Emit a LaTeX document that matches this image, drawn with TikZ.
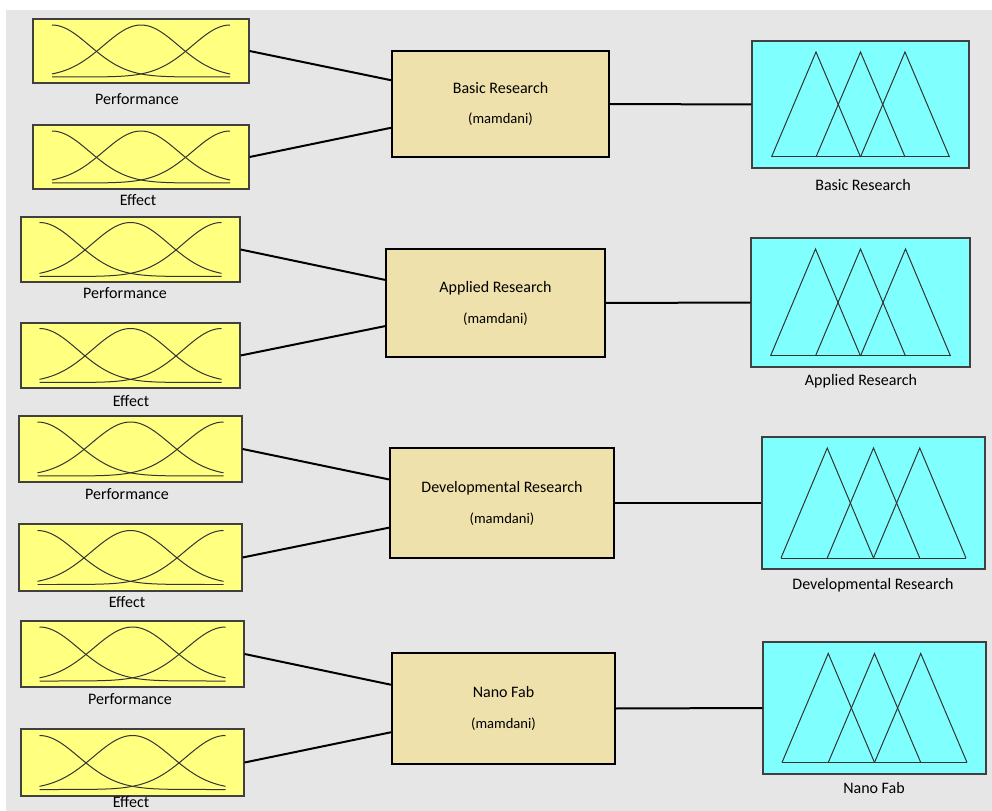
\documentclass[tikz,border=0pt]{standalone}
\usepackage{fontspec}
\setmainfont{Carlito}
\usetikzlibrary{positioning}
\usetikzlibrary{calc}

\definecolor{inyellow}{RGB}{255,255,128}
\definecolor{outcyan}{RGB}{128,255,255}
\definecolor{fisbeige}{RGB}{239,225,171}
\definecolor{panelgray}{RGB}{230,230,230}

\tikzset{
  boxsize/.style 2 args={minimum width=#1*0.2mm, minimum height=#2*0.2mm},
  inbox/.style={draw=black!75, line width=0.25mm, fill=inyellow, inner sep=0pt},
  outbox/.style={draw=black!75, line width=0.25mm, fill=outcyan, inner sep=0pt},
  fisbox/.style={draw=black, line width=0.45mm, fill=fisbeige, inner sep=0pt,
    align=center, font=\fontsize{9.1}{17.6}\selectfont},
  lbl/.style={font=\fontsize{9.1}{11}\selectfont, inner sep=0pt},
  link/.style={line width=0.4mm},
  mfline/.style={line width=0.2mm, draw=black!80},
}

% gaussian membership functions: node, half span, half height
\newcommand{\gaussmfs}[3]{%
  \begin{scope}[shift={(#1.center)}]
    \foreach \ctr in {-1,0,1}
      \draw[mfline] plot[domain=-#2:#2, samples=60, smooth]
        (\x, {#3 - 2*#3*exp(-0.5*((\x-(\ctr)*#2)/(0.42*#2))^2)});
  \end{scope}}

% triangular membership functions: node, half base, half height
\newcommand{\trimfs}[3]{%
  \begin{scope}[shift={(#1.center)}]
    \draw[mfline] (-#2,#3) -- (#2,#3);
    \foreach \k in {-1,0,1}
      \draw[mfline] ({(\k-1)*#2/2},#3) -- ({\k*#2/2},-#3) -- ({(\k+1)*#2/2},#3);
  \end{scope}}

\begin{document}
\begin{tikzpicture}[x=0.02cm, y=-0.02cm]

  % panel
  \useasboundingbox (0,0) rectangle (992,811);
  \fill[white] (0,0) rectangle (992,811);
  \fill[panelgray] (6,10) rectangle (992,811);

  % Basic Research
  \node[inbox, boxsize={216}{64}] (perf1) at (141,51) {};
  \node[inbox, boxsize={216}{64}] (eff1) at (141,157) {};
  \node[fisbox, boxsize={217}{106}] (mid1) at (500.5,104)
    {Basic Research\\{\fontsize{8.3}{17.6}\selectfont (mamdani)}};
  \node[outbox, boxsize={217}{127}] (out1) at (860.5,104.5) {};
  \node[lbl] (perf1lbl) at (137,99) {Performance};
  \node[lbl] (eff1lbl) at (138,200) {Effect};
  \node[lbl] (out1lbl) at (863,185) {Basic Research};
  \gaussmfs{perf1}{89}{26}
  \gaussmfs{eff1}{89}{26}
  \trimfs{out1}{89}{52.5}
  \draw[link] (perf1.east) -- ($(mid1.north west)!0.28!(mid1.south west)$);
  \draw[link] (eff1.east) -- ($(mid1.north west)!0.72!(mid1.south west)$);
  \draw[link] (mid1.east) -- (out1.west);

  % Applied Research
  \node[inbox, boxsize={219}{65}] (perf2) at (130.5,249.5) {};
  \node[inbox, boxsize={219}{65}] (eff2) at (130.5,355.5) {};
  \node[fisbox, boxsize={219}{108}] (mid2) at (495.5,303)
    {Applied Research\\{\fontsize{8.3}{17.6}\selectfont (mamdani)}};
  \node[outbox, boxsize={219}{129}] (out2) at (860.5,302.5) {};
  \node[lbl] (perf2lbl) at (125,293) {Performance};
  \node[lbl] (eff2lbl) at (131,401) {Effect};
  \node[lbl] (out2lbl) at (861,381) {Applied Research};
  \gaussmfs{perf2}{91}{27}
  \gaussmfs{eff2}{91}{27}
  \trimfs{out2}{90}{53.5}
  \draw[link] (perf2.east) -- ($(mid2.north west)!0.29!(mid2.south west)$);
  \draw[link] (eff2.east) -- ($(mid2.north west)!0.71!(mid2.south west)$);
  \draw[link] (mid2.east) -- (out2.west);

  % Developmental Research
  \node[inbox, boxsize={223}{66}] (perf3) at (130.5,449) {};
  \node[inbox, boxsize={223}{67}] (eff3) at (130.5,557.5) {};
  \node[fisbox, boxsize={224}{110}] (mid3) at (502,503)
    {Developmental Research\\{\fontsize{8.3}{17.6}\selectfont (mamdani)}};
  \node[outbox, boxsize={223}{132}] (out3) at (873.5,503) {};
  \node[lbl] (perf3lbl) at (127,494) {Performance};
  \node[lbl] (eff3lbl) at (127,602) {Effect};
  \node[lbl] (out3lbl) at (873,585) {Developmental Research};
  \gaussmfs{perf3}{93}{27}
  \gaussmfs{eff3}{93}{27}
  \trimfs{out3}{92.5}{55}
  \draw[link] (perf3.east) -- ($(mid3.north west)!0.29!(mid3.south west)$);
  \draw[link] (eff3.east) -- ($(mid3.north west)!0.72!(mid3.south west)$);
  \draw[link] (mid3.east) -- (out3.west);

  % Nano Fab
  \node[inbox, boxsize={223}{66}] (perf4) at (132.5,654) {};
  \node[inbox, boxsize={223}{67}] (eff4) at (132.5,762.5) {};
  \node[fisbox, boxsize={223}{111}] (mid4) at (503.5,708.5)
    {Nano Fab\\{\fontsize{8.3}{17.6}\selectfont (mamdani)}};
  \node[outbox, boxsize={223}{132}] (out4) at (874.5,708) {};
  \node[lbl] (perf4lbl) at (130,699) {Performance};
  \node[lbl] (eff4lbl) at (131,802) {Effect};
  \node[lbl] (out4lbl) at (874,788) {Nano Fab};
  \gaussmfs{perf4}{93}{27}
  \gaussmfs{eff4}{93}{27}
  \trimfs{out4}{92.5}{54.5}
  \draw[link] (perf4.east) -- ($(mid4.north west)!0.29!(mid4.south west)$);
  \draw[link] (eff4.east) -- ($(mid4.north west)!0.71!(mid4.south west)$);
  \draw[link] (mid4.east) -- (out4.west);

\end{tikzpicture}
\end{document}
